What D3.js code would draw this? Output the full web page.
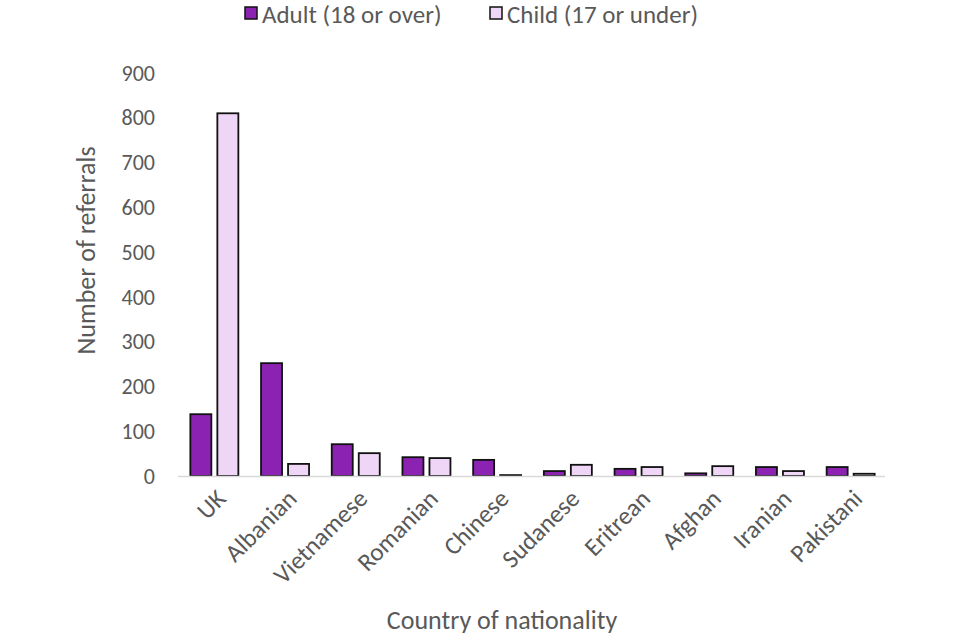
<html>
  <head>
    <script src="https://d3js.org/d3.v7.min.js" charset="utf-8"></script>
  </head>
  <body style="margin:0">
    <script>
      var w = 960;
      var h = 640;
      var countries = ["UK", "Albanian", "Vietnamese", "Romanian", "Chinese", "Sudanese", "Eritrean", "Afghan", "Iranian", "Pakistani"];
      var adult = [138, 252, 71, 42, 36, 11, 16, 6, 20, 20];
      var child = [810, 27, 51, 40, 2, 25, 20, 22, 11, 5];
      var yTicks = [0, 100, 200, 300, 400, 500, 600, 700, 800, 900];
      var seriesNames = ["Adult (18 or over)", "Child (17 or under)"];
      var colors = ["#8b22b1", "#efd6f6"];

      var font = "Carlito, Calibri, Lato, sans-serif";
      var svg = d3.select("body").append("svg")
        .attr("width", w).attr("height", h)
        .style("font-family", font);

      var mLeft = 178, mRight = 885, mTop = 73, mBottom = 476;
      var x = d3.scaleBand().domain(countries).range([mLeft, mRight]);
      var y = d3.scaleLinear().domain([0, 900]).range([mBottom, mTop]);

      // y tick labels
      svg.selectAll(".ytick").data(yTicks).enter().append("text")
        .attr("x", 155).attr("y", function(d){ return y(d); })
        .attr("dy", "0.35em").attr("text-anchor", "end")
        .attr("font-size", 22).attr("fill", "#595959")
        .text(function(d){ return d; });

      var data = countries.map(function(c, i){ return {c: c, v: [adult[i], child[i]]}; });
      var bw = 21, gap = 6;
      var groups = svg.selectAll(".grp").data(data).enter().append("g");
      groups.selectAll("rect").data(function(d){ return d.v; }).enter().append("rect")
        .attr("x", function(d, i){
          var p = d3.select(this.parentNode).datum();
          return x(p.c) + x.bandwidth()/2 - bw - gap/2 + i * (bw + gap) + 1;
        })
        .attr("y", function(d){ return y(d); })
        .attr("width", bw)
        .attr("height", function(d){ return mBottom - y(d); })
        .attr("fill", function(d, i){ return colors[i]; })
        .attr("stroke", "#111").attr("stroke-width", 1.8);

      // x axis line
      svg.append("line").attr("x1", mLeft).attr("x2", mRight)
        .attr("y1", mBottom + 0.5).attr("y2", mBottom + 0.5)
        .attr("stroke", "#d9d9d9").attr("stroke-width", 1.5);

      // x labels
      svg.selectAll(".xl").data(countries).enter().append("text")
        .attr("transform", function(d){ return "translate(" + (x(d) + x.bandwidth()/2 + 8) + "," + 494 + ") rotate(-45)"; })
        .attr("text-anchor", "end").attr("dy", "0.35em")
        .attr("font-size", 25).attr("fill", "#595959")
        .text(function(d){ return d; });

      svg.append("text")
        .attr("transform", "translate(95," + ((mTop + mBottom) / 2 - 24) + ") rotate(-90)")
        .attr("text-anchor", "middle").attr("font-size", 26).attr("fill", "#595959")
        .text("Number of referrals");

      svg.append("text").attr("x", 502).attr("y", 629)
        .attr("text-anchor", "middle").attr("font-size", 26).attr("fill", "#595959")
        .text("Country of nationality");

      // legend
      var lx = [245, 490];
      var leg = svg.selectAll(".leg").data(seriesNames).enter().append("g")
        .attr("transform", function(d, i){ return "translate(" + lx[i] + ",7)"; });
      leg.append("rect").attr("width", 12).attr("height", 12)
        .attr("fill", function(d, i){ return colors[i]; })
        .attr("stroke", "#111").attr("stroke-width", 1.5);
      leg.append("text").attr("x", 17).attr("y", 7).attr("dy", "0.35em")
        .attr("font-size", 25).attr("fill", "#595959")
        .text(function(d){ return d; });
    </script>
  </body>
</html>
